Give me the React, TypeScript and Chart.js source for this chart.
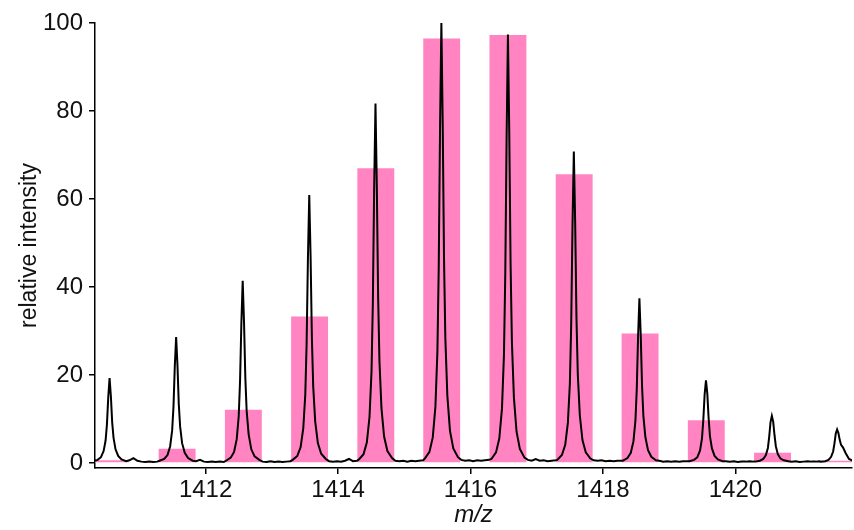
import React, { useEffect, useRef } from 'react';
import { Chart, registerables } from 'chart.js';

Chart.register(...registerables);

// Theoretical isotope distribution (bars)
const barMz = [1410.56, 1411.57, 1412.57, 1413.57, 1414.57, 1415.565, 1416.565, 1417.565, 1418.56, 1419.56, 1420.56, 1421.56];
const barIntensity = [0.6, 3.2, 12.1, 33.3, 67.0, 96.5, 97.3, 65.6, 29.4, 9.7, 2.3, 0.5];

// Measured spectrum (line): apex positions and the intensities read around each apex
const peakCenters = [1410.55, 1411.555, 1412.56, 1413.565, 1414.565, 1415.56, 1416.565, 1417.56, 1418.55, 1419.555, 1420.55, 1421.535];
const profileOffsets = [-0.25, -0.18, -0.13, -0.09, -0.06, -0.04, -0.02, 0, 0.02, 0.04, 0.06, 0.09, 0.13, 0.18, 0.25];
const peakProfiles = [
  [0.4, 0.7, 1.3, 2.7, 5.1, 8.7, 14.9, 19.3, 15.1, 9.1, 5.7, 3.1, 1.6, 0.8, 0.4],
  [0.5, 0.9, 1.8, 3.8, 7.4, 12.8, 22.0, 28.6, 22.3, 13.4, 8.3, 4.5, 2.3, 1.1, 0.5],
  [0.5, 1.2, 2.5, 5.4, 10.6, 18.5, 31.7, 41.4, 32.1, 19.3, 11.8, 6.5, 3.1, 1.5, 0.7],
  [0.7, 1.6, 3.6, 7.9, 15.5, 27.0, 46.5, 60.9, 47.1, 28.3, 17.3, 9.4, 4.5, 2.1, 0.9],
  [0.8, 2.0, 4.7, 10.5, 20.7, 36.2, 62.3, 81.7, 63.2, 37.8, 23.1, 12.5, 6.0, 2.7, 1.1],
  [1.0, 2.5, 5.8, 12.8, 25.3, 44.3, 76.3, 100.0, 77.3, 46.3, 28.3, 15.3, 7.3, 3.3, 1.3],
  [0.9, 2.4, 5.6, 12.4, 24.6, 43.1, 74.3, 97.4, 75.2, 45.1, 27.5, 14.9, 7.1, 3.2, 1.2],
  [0.7, 1.8, 4.1, 9.1, 18.0, 31.4, 54.1, 70.8, 54.8, 32.8, 20.1, 10.9, 5.2, 2.4, 1.0],
  [0.5, 1.1, 2.3, 4.9, 9.6, 16.7, 28.7, 37.4, 29.1, 17.5, 10.7, 5.9, 2.9, 1.4, 0.6],
  [0.4, 0.7, 1.3, 2.8, 5.6, 9.8, 15.6, 18.8, 15.8, 10.2, 6.1, 3.3, 1.6, 0.8, 0.4],
  [0.3, 0.5, 0.9, 1.8, 3.4, 6.0, 9.3, 10.7, 9.4, 6.3, 3.8, 2.0, 1.0, 0.6, 0.4],
  [0.3, 0.4, 0.7, 1.4, 2.6, 4.4, 6.7, 7.6, 6.8, 5.2, 4.1, 3.5, 2.2, 0.9, 0.4],
];
// Baseline noise between consecutive peaks (offsets from the preceding apex)
const gapOffsets = [0.3, 0.36, 0.42, 0.48, 0.54, 0.6, 0.66, 0.72];
const gapNoise = [
  [0.6, 1.1, 0.5, 0.3, 0.2, 0.3, 0.2, 0.3],
  [0.4, 0.7, 0.3, 0.2, 0.3, 0.2, 0.3, 0.2],
  [0.3, 0.2, 0.4, 0.2, 0.3, 0.2, 0.3, 0.4],
  [0.4, 0.3, 0.4, 0.3, 0.5, 0.9, 0.4, 0.5],
  [0.5, 0.4, 0.5, 0.3, 0.5, 0.4, 0.5, 0.6],
  [0.7, 0.5, 0.6, 0.4, 0.6, 0.5, 0.6, 0.7],
  [0.7, 0.5, 0.9, 0.5, 0.6, 0.4, 0.5, 0.6],
  [0.6, 0.5, 0.6, 0.4, 0.5, 0.4, 0.5, 0.5],
  [0.5, 0.3, 0.4, 0.3, 0.4, 0.3, 0.4, 0.4],
  [0.4, 0.3, 0.4, 0.2, 0.3, 0.3, 0.4, 0.3],
  [0.3, 0.4, 0.2, 0.3, 0.4, 0.3, 0.3, 0.4],
];

const xTickValues = [1412, 1414, 1416, 1418, 1420];
const yTickValues = [0, 20, 40, 60, 80, 100];
const xRange = [1410.33, 1421.76];
const yRange = [-1.15, 100];

const FONT = '"Liberation Sans", Arial, Helvetica, sans-serif';

export default function App() {
  const canvasRef = useRef<HTMLCanvasElement | null>(null);

  useEffect(() => {
    const canvas = canvasRef.current;
    if (!canvas) return;

    const spectrum: { x: number; y: number }[] = [];
    peakCenters.forEach((c, i) => {
      profileOffsets.forEach((o, j) => spectrum.push({ x: c + o, y: peakProfiles[i][j] }));
      if (gapNoise[i]) gapOffsets.forEach((o, j) => spectrum.push({ x: c + o, y: gapNoise[i][j] }));
    });
    const bars = barMz.map((x, i) => ({ x, y: barIntensity[i] }));

    const chart = new Chart(canvas, {
      type: 'bar',
      data: {
        datasets: [
          {
            type: 'line',
            data: spectrum,
            borderColor: '#000000',
            borderWidth: 2,
            pointRadius: 0,
            tension: 0,
            order: 0,
          } as any,
          {
            type: 'bar',
            data: bars,
            backgroundColor: '#ff84c1',
            borderWidth: 0,
            barPercentage: 0.56,
            categoryPercentage: 1.0,
            order: 1,
          },
        ],
      },
      options: {
        animation: false,
        responsive: false,
        maintainAspectRatio: false,
        layout: { padding: { top: 23, right: 2, left: 0, bottom: 0 } },
        plugins: { legend: { display: false }, tooltip: { enabled: false } },
        scales: {
          x: {
            type: 'linear',
            min: xRange[0],
            max: xRange[1],
            offset: false,
            afterBuildTicks: (scale: any) => {
              scale.ticks = xTickValues.map((v) => ({ value: v }));
            },
            afterFit: (scale: any) => {
              scale.height = 62;
            },
            grid: {
              display: true,
              drawOnChartArea: false,
              drawTicks: true,
              tickLength: 6,
              color: '#000000',
              lineWidth: 1.5,
              offset: false,
            },
            border: { display: true, color: '#000000', width: 1.5 },
            ticks: {
              color: '#111111',
              font: { family: FONT, size: 24 },
              padding: 2,
              maxRotation: 0,
              autoSkip: false,
              callback: (v: any) => String(v),
            },
            title: {
              display: true,
              text: 'm/z',
              color: '#111111',
              font: { family: FONT, size: 24, style: 'italic' },
              padding: { top: 0, bottom: 0 },
            },
          },
          y: {
            type: 'linear',
            min: yRange[0],
            max: yRange[1],
            afterBuildTicks: (scale: any) => {
              scale.ticks = yTickValues.map((v) => ({ value: v }));
            },
            afterFit: (scale: any) => {
              scale.width = 95;
            },
            grid: {
              display: true,
              drawOnChartArea: false,
              drawTicks: true,
              tickLength: 6,
              color: '#000000',
              lineWidth: 1.5,
            },
            border: { display: true, color: '#000000', width: 1.5 },
            ticks: {
              color: '#111111',
              font: { family: FONT, size: 24 },
              padding: 6,
              autoSkip: false,
              callback: (v: any) => String(v),
            },
            title: {
              display: true,
              text: 'relative intensity',
              color: '#111111',
              font: { family: FONT, size: 23 },
              padding: { top: 16, bottom: 0 },
            },
          },
        },
      },
    });

    return () => chart.destroy();
  }, []);

  return (
    <div style={{ position: 'fixed', left: 0, top: 0, width: 854, height: 530, background: '#ffffff' }}>
      <canvas ref={canvasRef} width={854} height={530} style={{ width: 854, height: 530, display: 'block' }} />
    </div>
  );
}
